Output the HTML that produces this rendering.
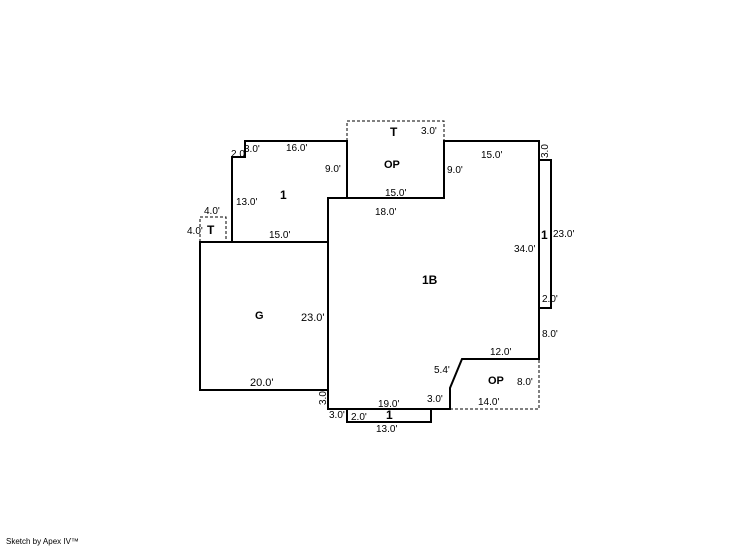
<!DOCTYPE html>
<html><head><style>body{margin:0;background:#fff}svg text{font-family:"Liberation Sans",sans-serif;fill:#000}</style></head><body>
<svg width="746" height="547" xmlns="http://www.w3.org/2000/svg">
<g fill="none" stroke="#000" stroke-width="1" stroke-dasharray="3,2">
<polyline points="347,141 347,121 444,121 444,141"/>
<polyline points="200,242 200,217 226,217 226,242"/>
<polyline points="450,409 539,409 539,359"/>
</g>
<g fill="none" stroke="#000" stroke-width="2">
<polyline points="328,242 232,242 232,157 245,157 245,141 347,141 347,198 444,198 444,141 539,141 539,359 462,359 450,388 450,409 328,409 328,198 347,198"/>
<polyline points="328,242 200,242 200,390 328,390"/>
<polyline points="347,409 347,422 431,422 431,409"/>
<polyline points="539,160 551,160 551,308 539,308"/>
</g>
<g font-size="10">
<text x="390" y="136" font-size="12" font-weight="bold">T</text><text x="421" y="134">3.0'</text>
<text x="231" y="157">2.0</text><text x="244" y="152">3.0'</text><text x="286" y="151">16.0'</text>
<text x="325" y="172">9.0'</text><text x="384" y="168" font-size="11" font-weight="bold">OP</text>
<text x="385" y="196">15.0'</text><text x="447" y="173">9.0'</text><text x="481" y="158">15.0'</text>
<text x="280" y="199" font-size="12" font-weight="bold">1</text><text x="236" y="205">13.0'</text>
<text x="375" y="215">18.0'</text><text x="204" y="214">4.0'</text><text x="187" y="234">4.0'</text>
<text x="207" y="234" font-size="12" font-weight="bold">T</text><text x="269" y="238">15.0'</text>
<text x="514" y="252">34.0'</text><text x="541" y="239" font-size="12" font-weight="bold">1</text><text x="553" y="237">23.0'</text>
<text x="422" y="284" font-size="12" font-weight="bold">1B</text>
<text x="255" y="319" font-size="11" font-weight="bold">G</text><text x="301" y="321" font-size="11">23.0'</text>
<text x="542" y="302">2.0'</text><text x="542" y="337">8.0'</text>
<text x="490" y="355">12.0'</text><text x="434" y="373">5.4'</text>
<text x="488" y="384" font-size="11" font-weight="bold">OP</text><text x="517" y="385">8.0'</text>
<text x="250" y="386" font-size="11">20.0'</text>
<text x="427" y="402">3.0'</text><text x="478" y="405">14.0'</text><text x="378" y="407">19.0'</text>
<text x="329" y="418">3.0'</text><text x="351" y="420">2.0'</text><text x="386" y="419" font-size="12" font-weight="bold">1</text>
<text x="376" y="432">13.0'</text>
<text transform="translate(326,405) rotate(-90)">3.0</text>
<text transform="translate(548,158) rotate(-90)">3.0</text>
<text x="6" y="544" font-size="8">Sketch by Apex IV™</text>
</g>
</svg>
</body></html>
